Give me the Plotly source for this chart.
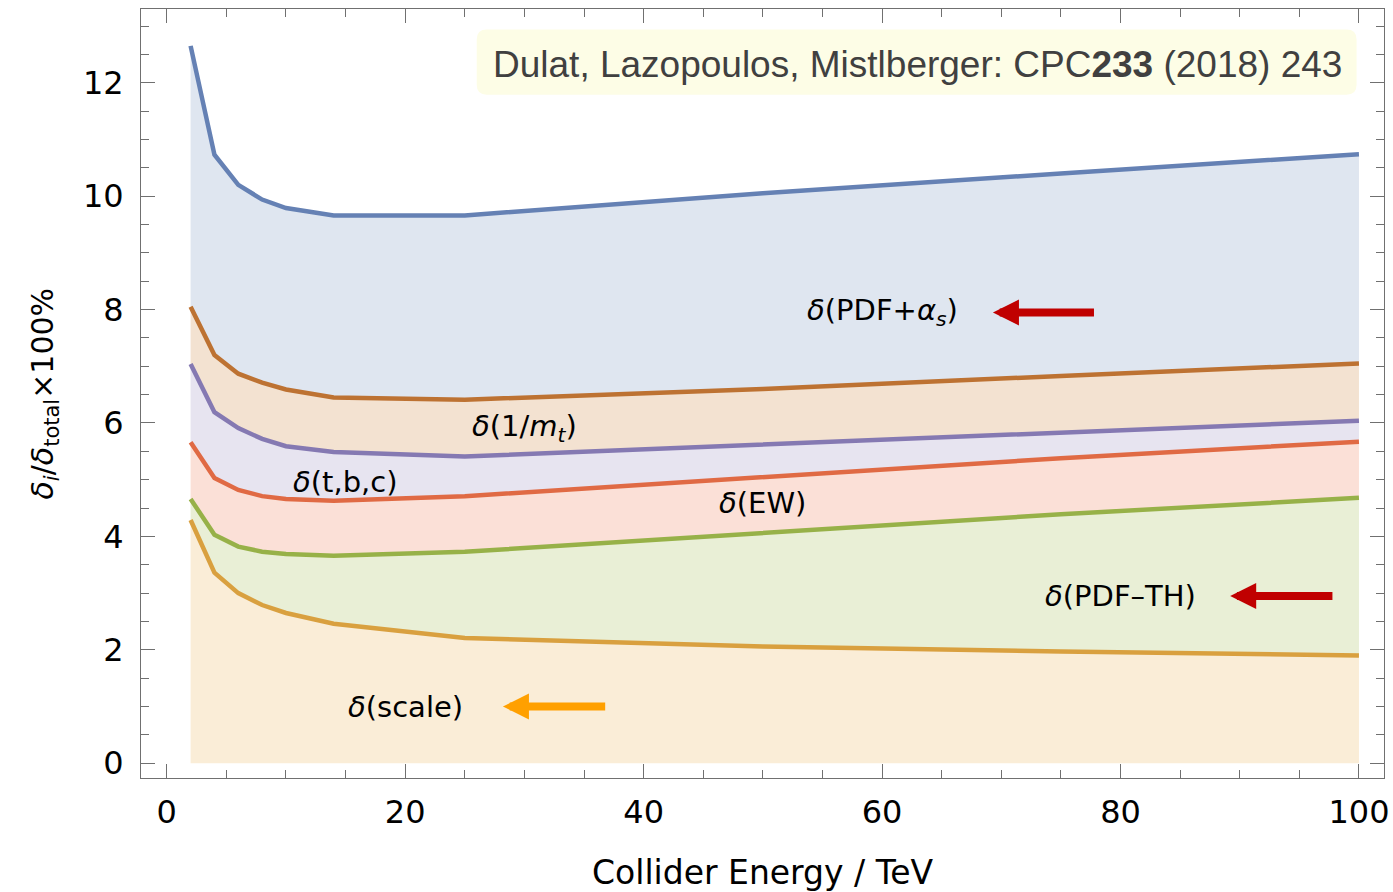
import plotly.graph_objects as go

# ---- data ----
energy = [2, 4, 6, 8, 10, 14, 25, 50, 75, 100]
scale_cum = [4.29, 3.36, 3.00, 2.79, 2.65, 2.46, 2.21, 2.06, 1.97, 1.90]
pdfth_cum = [4.66, 4.03, 3.82, 3.73, 3.69, 3.66, 3.73, 4.06, 4.39, 4.68]
ew_cum = [5.66, 5.03, 4.82, 4.71, 4.66, 4.63, 4.71, 5.04, 5.38, 5.67]
tbc_cum = [7.04, 6.19, 5.91, 5.72, 5.59, 5.49, 5.41, 5.62, 5.82, 6.04]
mt_cum = [8.05, 7.20, 6.87, 6.71, 6.59, 6.45, 6.41, 6.60, 6.83, 7.05]
pdfas_cum = [12.65, 10.73, 10.20, 9.94, 9.79, 9.66, 9.66, 10.05, 10.40, 10.74]

x_ticks = [0, 20, 40, 60, 80, 100]
y_ticks = [0, 2, 4, 6, 8, 10, 12]

series = [
    (scale_cum, "#d9a03f", "rgba(225,156,36,0.18)"),
    (pdfth_cum, "#97b148", "rgba(143,176,50,0.2)"),
    (ew_cum, "#e06a44", "rgba(235,98,53,0.2)"),
    (tbc_cum, "#8579b2", "rgba(135,120,179,0.2)"),
    (mt_cum, "#bd7232", "rgba(197,110,26,0.2)"),
    (pdfas_cum, "#6581b4", "rgba(94,129,181,0.2)"),
]

FONT = "DejaVu Sans"
fig = go.Figure()

# fills
for i, (vals, lc, fc) in enumerate(series):
    fig.add_trace(go.Scatter(
        x=energy, y=vals, mode="lines", line=dict(width=0, color=fc),
        fill="tozeroy" if i == 0 else "tonexty", fillcolor=fc,
        hoverinfo="skip", showlegend=False))
# lines
for vals, lc, fc in series:
    fig.add_trace(go.Scatter(
        x=energy, y=vals, mode="lines", line=dict(width=4.5, color=lc),
        showlegend=False))

# citation box (rounded)
bx0, bx1, by0, by1 = 26.0, 99.8, 11.79, 12.94
rx, ry = 0.84, 0.176
path = (f"M{bx0+rx},{by0} L{bx1-rx},{by0} Q{bx1},{by0} {bx1},{by0+ry} "
        f"L{bx1},{by1-ry} Q{bx1},{by1} {bx1-rx},{by1} L{bx0+rx},{by1} "
        f"Q{bx0},{by1} {bx0},{by1-ry} L{bx0},{by0+ry} Q{bx0},{by0} {bx0+rx},{by0} Z")
fig.add_shape(type="path", path=path, xref="x", yref="y",
              fillcolor="#fdfde6", line=dict(width=0), layer="above")
fig.add_annotation(x=63.0, y=12.33, xref="x", yref="y", showarrow=False,
                   text="Dulat, Lazopoulos, Mistlberger: CPC<b>233</b> (2018) 243",
                   font=dict(family="Liberation Sans", size=37, color="#404040"))

# curve labels
labels = [
    (60, 7.95, "<i>δ</i>(PDF+<i>α</i><sub><i>s</i></sub>)"),
    (30, 5.92, "<i>δ</i>(1/<i>m</i><sub><i>t</i></sub>)"),
    (15, 4.96, "<i>δ</i>(t,b,c)"),
    (50, 4.59, "<i>δ</i>(EW)"),
    (80, 2.95, "<i>δ</i>(PDF–TH)"),
    (20, 0.99, "<i>δ</i>(scale)"),
]
for lx, ly, t in labels:
    fig.add_annotation(x=lx, y=ly, xref="x", yref="y", text=t, showarrow=False,
                       font=dict(family=FONT, size=29, color="black"))

# arrows
arrows = [
    (69.3, 77.9, 7.95, "#c00000"),
    (89.2, 97.9, 2.95, "#c00000"),
    (28.2, 36.9, 1.00, "#ffa000"),
]
for tip, tail, ay, col in arrows:
    fig.add_annotation(x=tip, y=ay, ax=tail, ay=ay, xref="x", yref="y",
                       axref="x", ayref="y", text="", showarrow=True,
                       arrowhead=2, arrowsize=0.65, arrowwidth=8,
                       arrowcolor=col, standoff=0)

# axis titles
fig.add_annotation(x=0.5, y=0, xref="paper", yref="paper", yshift=-94,
                   xanchor="center", yanchor="middle",
                   text="Collider Energy / TeV", showarrow=False,
                   font=dict(family=FONT, size=33, color="black"))
fig.add_annotation(x=0, y=0.5, xref="paper", yref="paper", xshift=-97,
                   xanchor="center", yanchor="middle",
                   text="<i>δ</i><sub><i>i</i></sub>/<i>δ</i><sub>total</sub>×100%",
                   textangle=-90, showarrow=False,
                   font=dict(family=FONT, size=30, color="black"))

axis_common = dict(showline=True, linecolor="#707070", linewidth=1,
                   mirror="allticks", ticks="inside", ticklen=14,
                   tickcolor="#707070", tickwidth=1, showgrid=False,
                   zeroline=False, automargin=False,
                   tickfont=dict(family=FONT, size=32, color="black"))
fig.update_xaxes(range=[-2.16, 102.1], tickvals=x_ticks, ticktext=[str(v) for v in x_ticks],
                 minor=dict(dtick=5, tick0=0, ticks="inside", ticklen=8, tickcolor="#707070"),
                 ticklabelstandoff=6, **axis_common)
fig.update_yaxes(range=[-0.26, 13.3], tickvals=y_ticks, ticktext=[str(v) for v in y_ticks],
                 minor=dict(dtick=0.5, tick0=0, ticks="inside", ticklen=8, tickcolor="#707070"),
                 ticklabelstandoff=10, **axis_common)

fig.update_layout(width=1393, height=892, margin=dict(l=141, r=9, t=9, b=114),
                  plot_bgcolor="white", paper_bgcolor="white", showlegend=False)

fig.write_html("out.html")
